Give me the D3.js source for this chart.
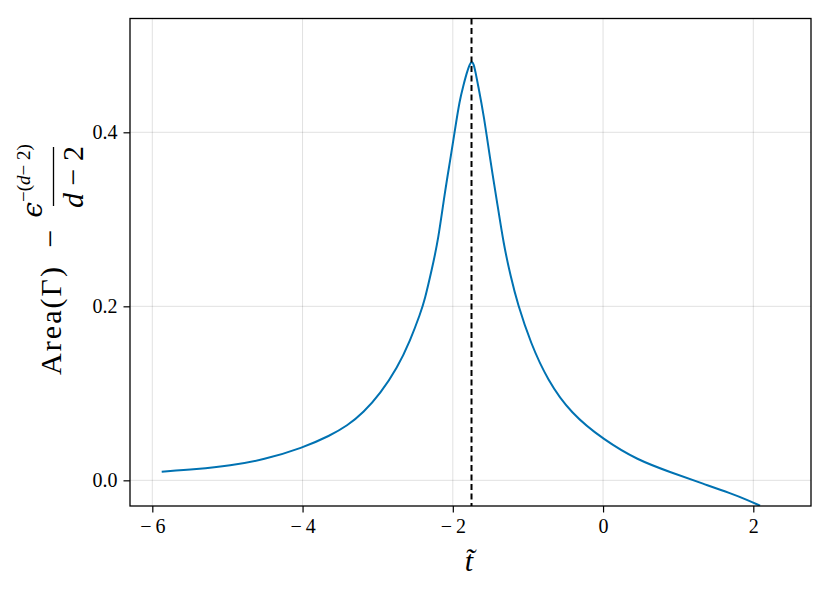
<!DOCTYPE html>
<html>
<head>
<meta charset="utf-8">
<script src="https://cdn.jsdelivr.net/npm/d3@7"></script>
<style>
  body { margin: 0; background: #fff; }
  svg text { font-family: "Liberation Serif", "DejaVu Serif", serif; fill: #000; }
</style>
</head>
<body>
<div id="chart"></div>
<script>
// curve values
var tValues = [-5.875, -5.408, -4.964, -4.52, -4.0, -3.631, -3.408, -3.187, -2.964, -2.741,
    -2.564, -2.431, -2.374, -2.281, -2.194, -2.108, -2.034, -1.974, -1.908, -1.861,
    -1.815, -1.775, -1.748, -1.721, -1.695, -1.668, -1.584, -1.502, -1.415, -1.322,
    -1.229, -1.140, -0.963, -0.740, -0.430, 0.013, 0.458, 0.901, 1.345, 1.699,
    1.923, 2.090];
var areaValues = [0.0099, 0.0127, 0.0168, 0.0236, 0.0372, 0.0515, 0.0625, 0.078, 0.1, 0.1287,
    0.1613, 0.192, 0.2072, 0.2417, 0.2762, 0.3302, 0.3682, 0.4015, 0.4372, 0.4532,
    0.4682, 0.4785, 0.4814, 0.4786, 0.4678, 0.4563, 0.4179, 0.3682, 0.3222, 0.2705,
    0.2341, 0.2034, 0.1575, 0.1153, 0.077, 0.0463, 0.0233, 0.0092, -0.0043, -0.0149,
    -0.0226, -0.0292];
var xTicks = [-6, -4, -2, 0, 2];
var yTicks = [0.0, 0.2, 0.4];
var peakT = -1.751;

var svgWidth = 830;
var svgHeight = 593;
var margin = {top: 18.5, right: 19, bottom: 87, left: 130};
var width = svgWidth - margin.left - margin.right;
var height = svgHeight - margin.top - margin.bottom;

var svg = d3.select("#chart")
    .append("svg")
    .attr("width", svgWidth)
    .attr("height", svgHeight);

var chart = svg.append("g")
    .attr("transform", "translate(" + margin.left + "," + margin.top + ")");

var x = d3.scaleLinear().domain([-6.297, 2.768]).range([0, width]);
var y = d3.scaleLinear().domain([-0.0295, 0.5308]).range([height, 0]);

svg.append("defs").append("clipPath").attr("id", "clip")
    .append("rect").attr("width", width).attr("height", height);

// grid
chart.append("g")
    .selectAll("line")
    .data(xTicks)
    .enter().append("line")
    .attr("x1", d => x(d)).attr("x2", d => x(d))
    .attr("y1", 0).attr("y2", height)
    .attr("stroke", "#000").attr("stroke-opacity", 0.12).attr("stroke-width", 1);

chart.append("g")
    .selectAll("line")
    .data(yTicks)
    .enter().append("line")
    .attr("y1", d => y(d)).attr("y2", d => y(d))
    .attr("x1", 0).attr("x2", width)
    .attr("stroke", "#000").attr("stroke-opacity", 0.12).attr("stroke-width", 1);

var points = tValues.map((t, i) => ({t: t, v: areaValues[i]}));

var line = d3.line()
    .x(d => x(d.t))
    .y(d => y(d.v))
    .curve(d3.curveBasis);

chart.append("path")
    .datum(points)
    .attr("clip-path", "url(#clip)")
    .attr("d", line)
    .attr("fill", "none")
    .attr("stroke", "#0072B2")
    .attr("stroke-width", 2);

// vertical dashed marker at the peak
chart.append("line")
    .attr("x1", x(peakT)).attr("x2", x(peakT))
    .attr("y1", 0).attr("y2", height)
    .attr("stroke", "#000")
    .attr("stroke-width", 2)
    .attr("stroke-dasharray", "6,3.5");

// axes
var minusFmt = function(d, digits) {
    var s = Math.abs(d).toFixed(digits);
    return d < 0 ? "\u2212\u2009" + s : s;
};

var bottomAxis = d3.axisBottom(x)
    .tickValues(xTicks)
    .tickSize(6.5)
    .tickSizeOuter(0)
    .tickPadding(6)
    .tickFormat(d => minusFmt(d, 0));

var leftAxis = d3.axisLeft(y)
    .tickValues(yTicks)
    .tickSize(6.5)
    .tickSizeOuter(0)
    .tickPadding(6)
    .tickFormat(d => minusFmt(d, 1));

var gx = chart.append("g")
    .attr("transform", "translate(0," + height + ")")
    .call(bottomAxis)
    .attr("font-family", "Liberation Serif")
    .attr("font-size", 20);
gx.select(".domain").remove();
gx.selectAll("line").attr("stroke-width", 1.2);
gx.selectAll("text").style("font-size", "20px");

var gy = chart.append("g")
    .call(leftAxis)
    .attr("font-family", "Liberation Serif")
    .attr("font-size", 20);
gy.select(".domain").remove();
gy.selectAll("line").attr("stroke-width", 1.2);
gy.selectAll("text").style("font-size", "20px");

// frame
chart.append("rect")
    .attr("width", width)
    .attr("height", height)
    .attr("fill", "none")
    .attr("stroke", "#000")
    .attr("stroke-width", 1.3);

// x label
svg.append("text")
    .attr("x", 469)
    .attr("y", 571)
    .attr("text-anchor", "middle")
    .attr("font-size", "30px")
    .attr("font-style", "italic")
    .text("t\u0303");

// y label: Area(Γ) − ϵ^{−(d−2)} / (d−2)
var ylab = svg.append("g").attr("transform", "rotate(-90)");

ylab.append("text")
    .attr("x", -375)
    .attr("y", 61)
    .attr("font-size", "30px")
    .attr("textLength", 108)
    .attr("lengthAdjust", "spacing")
    .text("Area(\u0393)");

ylab.append("text")
    .attr("x", -239)
    .attr("y", 61)
    .attr("text-anchor", "middle")
    .attr("font-size", "32px")
    .text("\u2212");

ylab.append("line")
    .attr("x1", -206).attr("x2", -147)
    .attr("y1", 53.5).attr("y2", 53.5)
    .attr("stroke", "#000")
    .attr("stroke-width", 1.3);

var num = ylab.append("text")
    .attr("x", -181)
    .attr("y", 42)
    .attr("text-anchor", "middle")
    .attr("font-size", "28px");
num.append("tspan").attr("font-style", "italic").style("font-family", "DejaVu Serif").text("\u03f5");
num.append("tspan").attr("font-size", "19px").attr("dy", -12).text("\u2212(");
num.append("tspan").attr("font-size", "19px").attr("font-style", "italic").text("d");
num.append("tspan").attr("font-size", "19px").text("\u2212 2)");

var den = ylab.append("text")
    .attr("x", -177)
    .attr("y", 83)
    .attr("text-anchor", "middle")
    .attr("font-size", "30px");
den.append("tspan").attr("font-style", "italic").text("d");
den.append("tspan").text(" \u2212 2");
</script>
</body>
</html>
